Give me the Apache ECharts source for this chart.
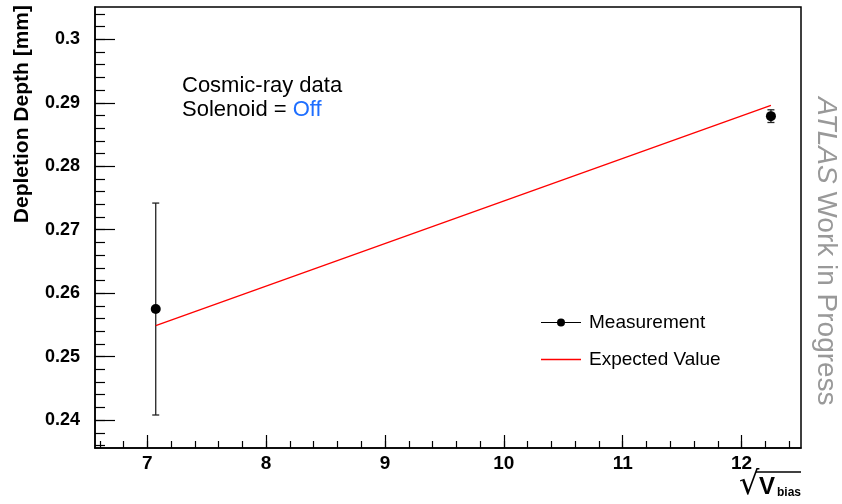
<!DOCTYPE html>
<html><head><meta charset="utf-8">
<script src="https://cdn.jsdelivr.net/npm/echarts@6/dist/echarts.min.js"></script>
<style>html,body{margin:0;padding:0;background:#fff}#c{width:842px;height:504px}</style>
</head><body><div id="c"></div>
<script>
// ---- data ----
const sqrtVbias = [7.071, 12.247];
const depthMeasured = [0.2575, 0.2879];
const depthError = [0.0167, 0.0010];
const expectedX = [7.071, 12.247];
const expectedDepth = [0.2549, 0.2896];
const xTickLabels = [7, 8, 9, 10, 11, 12];
const yTickLabels = [0.24, 0.25, 0.26, 0.27, 0.28, 0.29, 0.30];
const seriesNames = ['Measurement', 'Expected Value'];

const X_MIN = 6.56, X_MAX = 12.5, Y_MIN = 0.2356, Y_MAX = 0.3051;
const xMinor = []; for (let v = 6.6; v < 12.5; v += 0.2) xMinor.push(+v.toFixed(1));
const yMinor = []; for (let v = 0.236; v < 0.3051; v += 0.002) yMinor.push(+v.toFixed(3));

const FONT = '"Liberation Sans", Arial, Helvetica, sans-serif';
const RED = '#ff0000';

const chart = echarts.init(document.getElementById('c'), null, {renderer: 'canvas'});
const axisLineStyle = {color: '#000', width: 1.5};
const option = {
  animation: false,
  backgroundColor: '#fff',
  grid: {left: 95, right: 41, top: 7, bottom: 56, show: true, borderColor: '#000', borderWidth: 1.5, backgroundColor: 'transparent'},
  xAxis: [
    {type: 'value', min: X_MIN, max: X_MAX, position: 'bottom',
     axisLine: {show: true, lineStyle: axisLineStyle},
     axisTick: {show: true, inside: true, length: 13, customValues: xTickLabels, lineStyle: {color: '#000', width: 1.2}},
     axisLabel: {show: true, customValues: xTickLabels, formatter: v => String(v), fontSize: 19, fontWeight: 'bold', fontFamily: FONT, color: '#000', margin: 6},
     splitLine: {show: false}},
    {type: 'value', min: X_MIN, max: X_MAX, position: 'bottom', gridIndex: 0,
     axisLine: {show: false},
     axisTick: {show: true, inside: true, length: 7, customValues: xMinor, lineStyle: {color: '#000', width: 1.2}},
     axisLabel: {show: false}, splitLine: {show: false}}
  ],
  yAxis: [
    {type: 'value', min: Y_MIN, max: Y_MAX, position: 'left',
     axisLine: {show: true, lineStyle: axisLineStyle},
     axisTick: {show: true, inside: true, length: 20, customValues: yTickLabels, lineStyle: {color: '#000', width: 1.2}},
     axisLabel: {show: true, customValues: yTickLabels, formatter: v => String(+(+v).toFixed(2)), fontSize: 18, fontWeight: 'bold', fontFamily: FONT, color: '#000', margin: 15},
     splitLine: {show: false}},
    {type: 'value', min: Y_MIN, max: Y_MAX, position: 'left',
     axisLine: {show: false},
     axisTick: {show: true, inside: true, length: 10, customValues: yMinor, lineStyle: {color: '#000', width: 1.2}},
     axisLabel: {show: false}, splitLine: {show: false}}
  ],
  legend: [
    {orient: 'vertical', left: 536, top: 308, itemWidth: 40, itemHeight: 8, selectedMode: false,
     textStyle: {fontSize: 19, fontFamily: FONT, color: '#000', padding: [0, 0, 0, 3]},
     data: [{name: seriesNames[0], icon: 'path://M0,4.4L40,4.4L40,5.6L0,5.6Z M16,5A4,4 0 1 1 24,5A4,4 0 1 1 16,5Z',
             itemStyle: {color: '#000', opacity: 1, borderWidth: 0}}]},
    {orient: 'vertical', left: 536, top: 345, itemWidth: 40, itemHeight: 1.3, selectedMode: false,
     textStyle: {fontSize: 19, fontFamily: FONT, color: '#000', padding: [0, 0, 0, 3]},
     data: [{name: seriesNames[1], icon: 'rect', itemStyle: {color: RED, opacity: 0, borderWidth: 0}}]}
  ],
  graphic: [
    {type: 'line', shape: {x1: 541, y1: 359.5, x2: 581, y2: 359.5}, style: {stroke: RED, lineWidth: 1.3}, z: 10},
    {type: 'text', x: 22, y: 5, rotation: Math.PI / 2,
     style: {text: 'Depletion Depth [mm]', font: 'bold 21px ' + FONT, fill: '#000', align: 'right', verticalAlign: 'middle'}},
    {type: 'text', x: 182, y: 86,
     style: {text: 'Cosmic-ray data', font: '22px ' + FONT, fill: '#000', align: 'left', verticalAlign: 'middle'}},
    {type: 'text', x: 182, y: 110,
     style: {text: '{a|Solenoid = }{b|Off}', align: 'left', verticalAlign: 'middle',
       rich: {a: {fontSize: 22, fontFamily: FONT, fill: '#000'}, b: {fontSize: 22, fontFamily: FONT, fill: '#1f6fff'}}}},
    {type: 'text', x: 826, y: 97, rotation: -Math.PI / 2,
     style: {text: '{a|ATLAS}{b| Work in Progress}', align: 'left', verticalAlign: 'middle',
       rich: {a: {fontSize: 28, fontStyle: 'italic', fontFamily: FONT, fill: '#999999'}, b: {fontSize: 28, fontFamily: FONT, fill: '#999999'}}}},
    {type: 'text', x: 739, y: 486,
     style: {text: '√', font: '32px "DejaVu Sans"', fill: '#000', align: 'left', verticalAlign: 'middle'}},
    {type: 'line', shape: {x1: 756, y1: 472, x2: 801, y2: 472}, style: {stroke: '#000', lineWidth: 1.5}},
    {type: 'text', x: 759, y: 487,
     style: {text: 'V', font: 'bold 24px ' + FONT, fill: '#000', align: 'left', verticalAlign: 'middle'}},
    {type: 'text', x: 777, y: 493,
     style: {text: 'bias', font: 'bold 12px ' + FONT, fill: '#000', align: 'left', verticalAlign: 'middle'}}
  ],
  series: [
    {type: 'custom', name: 'errors', xAxisIndex: 0, yAxisIndex: 0, z: 2,
     data: sqrtVbias.map((x, i) => [x, depthMeasured[i], depthError[i]]),
     renderItem: function (params, api) {
       const x = api.value(0), y = api.value(1), e = api.value(2);
       const t = api.coord([x, y + e]), b = api.coord([x, y - e]);
       const st = {stroke: '#222', lineWidth: 1.3};
       return {type: 'group', children: [
         {type: 'line', shape: {x1: t[0], y1: t[1], x2: b[0], y2: b[1]}, style: st},
         {type: 'line', shape: {x1: t[0] - 3.5, y1: t[1], x2: t[0] + 3.5, y2: t[1]}, style: st},
         {type: 'line', shape: {x1: b[0] - 3.5, y1: b[1], x2: b[0] + 3.5, y2: b[1]}, style: st}
       ]};
     }},
    {type: 'line', name: seriesNames[1], xAxisIndex: 0, yAxisIndex: 0, z: 3, symbol: 'none', color: RED,
     data: expectedX.map((x, i) => [x, expectedDepth[i]]),
     lineStyle: {color: RED, width: 1.3}, itemStyle: {color: RED}},
    {type: 'scatter', name: seriesNames[0], xAxisIndex: 0, yAxisIndex: 0, z: 4, symbol: 'circle', symbolSize: 10, color: '#000',
     data: sqrtVbias.map((x, i) => [x, depthMeasured[i]]), itemStyle: {color: '#000', opacity: 1}}
  ]
};
chart.setOption(option);
</script></body></html>
